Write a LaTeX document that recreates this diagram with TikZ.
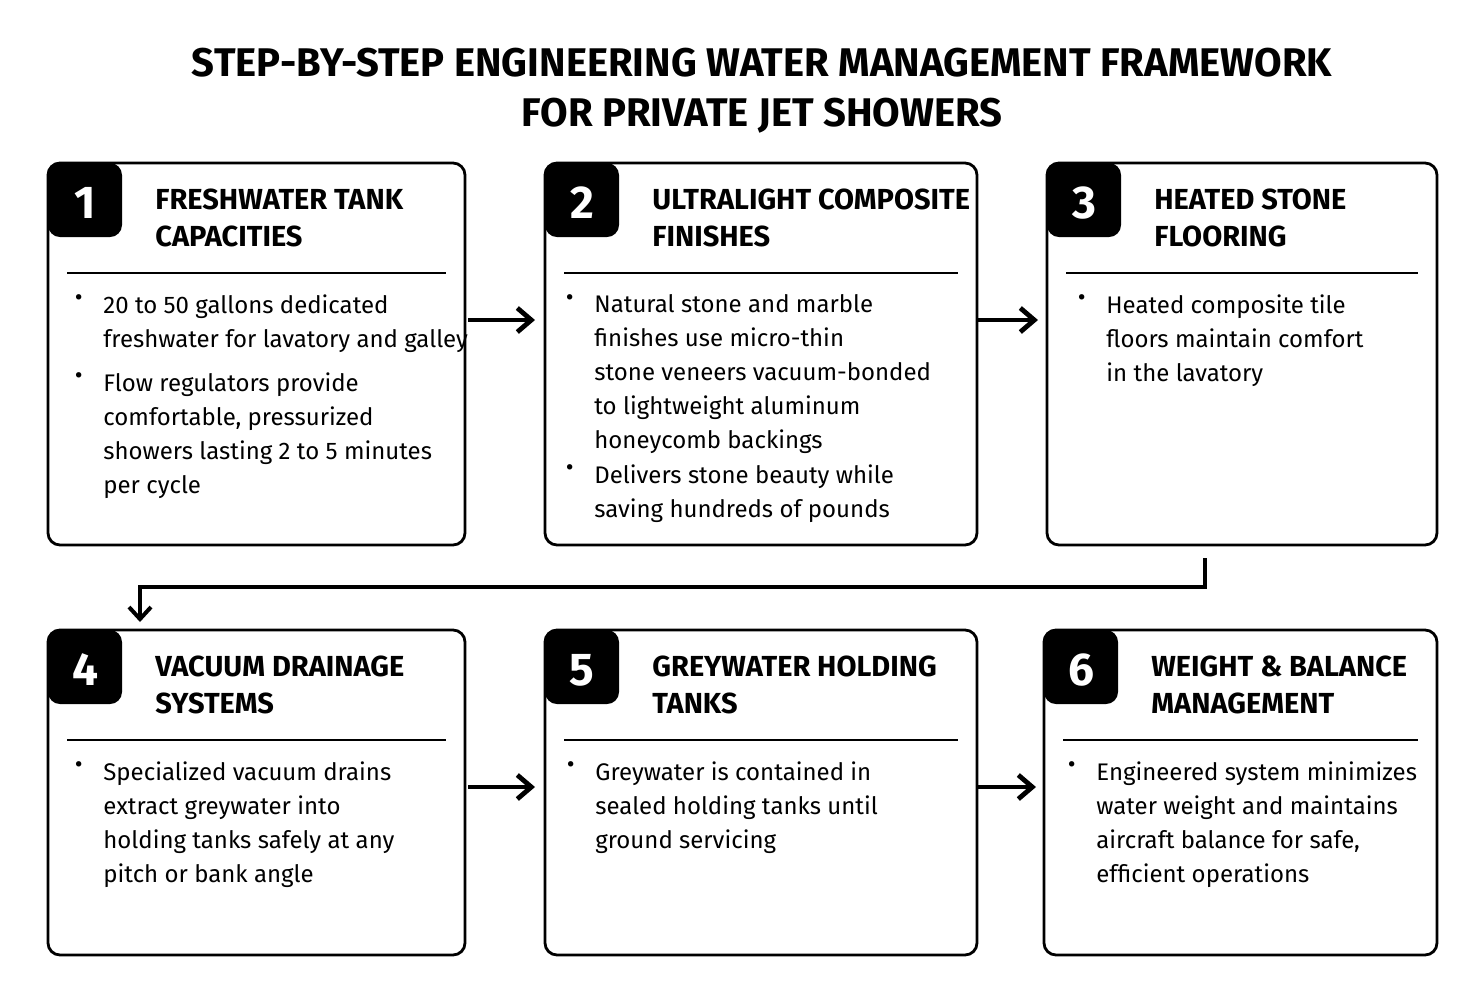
\documentclass[tikz,border=0pt]{standalone}
\usepackage{fontspec}
\setmainfont{Fira Sans}
\usetikzlibrary{positioning,arrows.meta}
\tikzset{
  box/.style={draw,line width=1.4pt,rounded corners=6pt},
  tab/.style={fill=black,rounded corners=6pt},
  num/.style={text=white,font=\fontsize{23}{23}\bfseries\selectfont},
  head/.style={anchor=north west,inner sep=0pt,align=left,
    font=\fontsize{14.5}{18.5}\selectfont\bfseries},
  body/.style={anchor=north west,inner sep=0pt,align=left,
    font=\fontsize{12}{17}\selectfont},
  flow/.style={-{Straight Barb[length=7pt,width=12pt]},line width=2.4pt},
}
% bullet with its text, top of the first line at (x,y)
\newcommand{\bul}[3]{%
  \node[body] (#1) at (#2) {#3};
  \node[body,left=10pt of #1.north west,anchor=north east] (#1b) {\textbullet};}
% box with number tab, heading and rule
\newcommand{\card}[6]{%
  \draw[box] (#1,#2) rectangle (#3,#4);
  \fill[tab] (#1,#2) -- (#1+74,#2) -- (#1+74,#2+74) -- (#1,#2+74) -- cycle;
  \node[num] (n#5) at (#1+37,#2+40) {#5};
  \node[head] (h#5) at (#1+107,#2+25) {#6};
  \draw[line width=1.2pt] (#1+19,#2+110) -- (#3-19,#2+110);}

\begin{document}
\begin{tikzpicture}[x=0.5pt,y=-0.5pt]
  \useasboundingbox (0,0) rectangle (1484,1003);

  % title
  \node[font=\fontsize{20}{25}\bfseries\selectfont,align=center] (title) at (762,91)
    {STEP-BY-STEP ENGINEERING WATER MANAGEMENT FRAMEWORK\\FOR PRIVATE JET SHOWERS};

  % first row
  \card{48}{163}{465}{545}{1}{FRESHWATER TANK\\CAPACITIES}
  \bul{t1a}{103,294}{20 to 50 gallons dedicated\\freshwater for lavatory and galley}
  \bul{t1b}{103,372}{Flow regulators provide\\comfortable, pressurized\\showers lasting 2 to 5 minutes\\per cycle}

  \card{545}{163}{977}{545}{2}{ULTRALIGHT COMPOSITE\\FINISHES}
  \bul{t2a}{594,294}{Natural stone and marble\\finishes use micro-thin\\stone veneers vacuum-bonded\\to lightweight aluminum\\honeycomb backings}
  \bul{t2b}{594,464}{Delivers stone beauty while\\saving hundreds of pounds}

  \card{1047}{163}{1437}{545}{3}{HEATED STONE\\FLOORING}
  \bul{t3a}{1106,294}{Heated composite tile\\floors maintain comfort\\in the lavatory}

  % second row
  \card{48}{630}{465}{955}{4}{VACUUM DRAINAGE\\SYSTEMS}
  \bul{t4a}{103,761}{Specialized vacuum drains\\extract greywater into\\holding tanks safely at any\\pitch or bank angle}

  \card{545}{630}{977}{955}{5}{GREYWATER HOLDING\\TANKS}
  \bul{t5a}{595,761}{Greywater is contained in\\sealed holding tanks until\\ground servicing}

  \card{1044}{630}{1437}{955}{6}{WEIGHT \& BALANCE\\MANAGEMENT}
  \bul{t6a}{1096,761}{Engineered system minimizes\\water weight and maintains\\aircraft balance for safe,\\efficient operations}

  % connectors
  \coordinate (a1) at (468,320); \coordinate (a2) at (535,320);
  \coordinate (a3) at (978,320); \coordinate (a4) at (1038,320);
  \coordinate (a5) at (468,787); \coordinate (a6) at (535,787);
  \coordinate (a7) at (978,787); \coordinate (a8) at (1036,787);
  \draw[flow] (a1) -- (a2);
  \draw[flow] (a3) -- (a4);
  \draw[flow] (a5) -- (a6);
  \draw[flow] (a7) -- (a8);
  \coordinate (d1) at (1205,558); \coordinate (d2) at (140,622);
  \draw[flow,line width=2pt,-{Straight Barb[length=6pt,width=11pt]}]
    (d1) -- (1205,587) -- (140,587) -- (d2);
\end{tikzpicture}
\end{document}
